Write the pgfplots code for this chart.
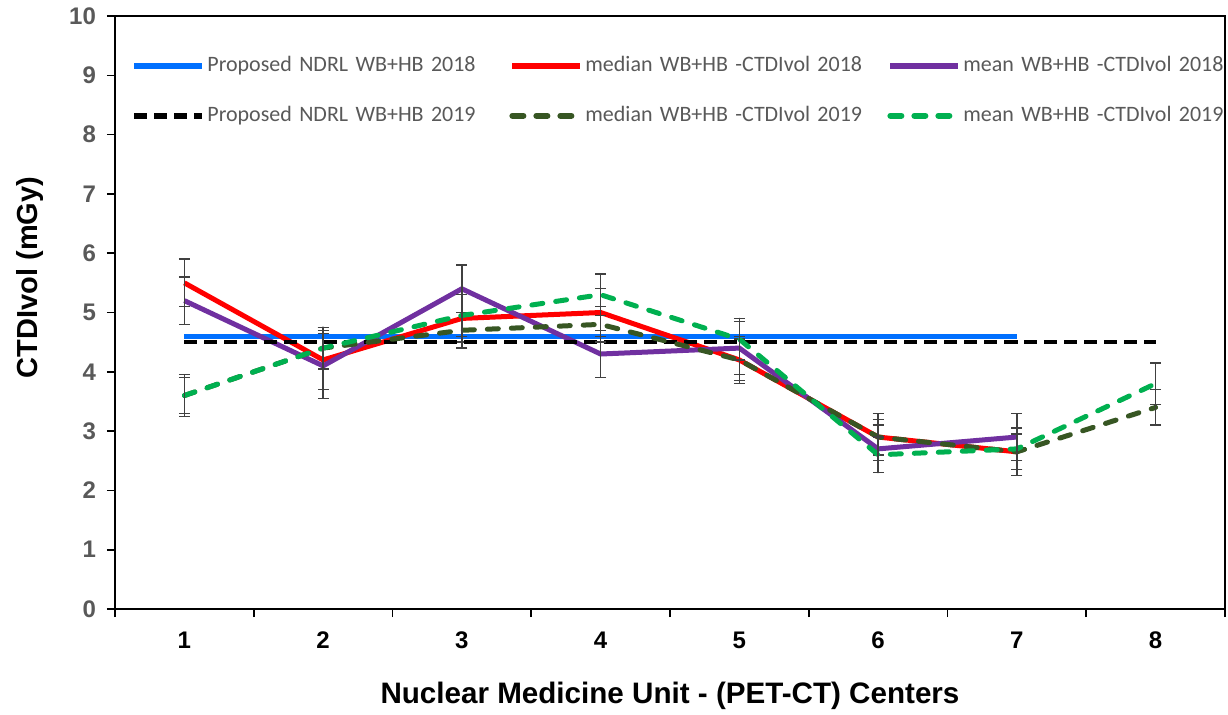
\documentclass[border=0pt]{standalone}
\usepackage{pgfplots}
\pgfplotsset{compat=1.18}
\usepackage{fontspec}
\setmainfont{Liberation Sans}
\newfontfamily\legfont{Carlito}
\definecolor{cblue}{RGB}{0,112,255}
\definecolor{cred}{RGB}{255,0,0}
\definecolor{cpurple}{RGB}{112,48,160}
\definecolor{colive}{RGB}{55,86,35}
\definecolor{cgreen}{RGB}{0,176,80}
\definecolor{ygray}{RGB}{89,89,89}
\definecolor{errc}{RGB}{64,64,64}
\pgfplotstableread{
x y
1 4.6
2 4.6
3 4.6
4 4.6
5 4.6
6 4.6
7 4.6
}\blueT
\pgfplotstableread{
x y
1 4.5
2 4.5
3 4.5
4 4.5
5 4.5
6 4.5
7 4.5
8 4.5
}\blackT
\pgfplotstableread{
x y e
1 5.5 0.4
2 4.2 0.5
3 4.9 0.4
4 5.0 0.4
5 4.2 0.4
6 2.9 0.4
7 2.65 0.4
}\redT
\pgfplotstableread{
x y e
1 5.2 0.4
2 4.1 0.55
3 5.4 0.4
4 4.3 0.4
5 4.4 0.45
6 2.7 0.4
7 2.9 0.4
}\purpleT
\pgfplotstableread{
x y e
1 3.6 0.3
2 4.4 0.35
3 4.7 0.3
4 4.8 0.3
5 4.2 0.35
6 2.9 0.3
7 2.65 0.3
8 3.4 0.3
}\oliveT
\pgfplotstableread{
x y e
1 3.6 0.35
2 4.4 0.35
3 4.95 0.35
4 5.3 0.35
5 4.55 0.35
6 2.6 0.3
7 2.7 0.35
8 3.8 0.35
}\greenT
\begin{document}
\begin{tikzpicture}
\begin{axis}[
  scale only axis, width=555pt, height=296.5pt,
  xmin=0.5, xmax=8.5, ymin=0, ymax=10,
  xtick={1,...,8}, minor xtick={0.5,1.5,...,8.5},
  major x tick style={draw=none},
  minor x tick style={black, line width=0.8pt},
  minor tick length=4pt,
  ytick={0,...,10}, major tick length=4pt,
  y tick style={black, line width=0.8pt},
  tick align=outside, tick pos=left,
  axis line style={black, line width=1.3pt},
  /pgf/number format/assume math mode=true,
  yticklabel style={font=\bfseries\fontsize{12}{14}\selectfont, text=ygray, xshift=-2pt},
  xticklabel style={font=\bfseries\fontsize{12}{14}\selectfont, text=black, yshift=-4pt},
  ylabel={CTDIvol (mGy)},
  xlabel={Nuclear Medicine Unit - (PET-CT) Centers},
  every axis y label/.style={at={(axis description cs:-0.0766,0.559)}, rotate=90, anchor=center, font=\bfseries\fontsize{14.5}{17}\selectfont},
  every axis x label/.style={at={(axis description cs:0.5,0)}, anchor=center, yshift=-43.5pt, font=\bfseries\fontsize{14.8}{17}\selectfont},
  legend style={at={(rel axis cs:0,1)}, anchor=north west, xshift=5pt, yshift=-17pt,
    draw=none, fill=none, legend columns=3,
    font=\legfont\fontsize{11}{13}\selectfont, text=ygray,
    nodes={text width=150pt, align=left, inner sep=1pt},
    row sep=14pt, column sep=0pt},
  legend cell align=left,
  legend image code/.code={\draw[#1, line width=3pt] (0pt,0pt) -- (34pt,0pt);},
  error bars/y dir=both, error bars/y explicit,
  error bars/error mark=-,
  error bars/error bar style={errc, line width=0.7pt, solid},
  error bars/error mark options={rotate=90, errc, mark size=2.8pt, line width=0.7pt, solid},
]
\addplot[cblue, line width=2.5pt, error bars/y dir=none] table[x=x,y=y] {\blueT};
\addlegendentry{Proposed NDRL WB+HB 2018}
\addplot[cred, line width=2.5pt] table[x=x,y=y,y error=e] {\redT};
\addlegendentry{median WB+HB -CTDIvol 2018}
\addplot[cpurple, line width=2.5pt] table[x=x,y=y,y error=e] {\purpleT};
\addlegendentry{mean WB+HB -CTDIvol 2018}
\addplot[black, line width=2pt, dash pattern=on 6.5pt off 3.5pt, error bars/y dir=none] table[x=x,y=y] {\blackT};
\addlegendentry{Proposed NDRL WB+HB 2019}
\addplot[colive, line width=2.5pt, line cap=round, dash pattern=on 5.5pt off 6.5pt] table[x=x,y=y,y error=e] {\oliveT};
\addlegendentry{median WB+HB -CTDIvol 2019}
\addplot[cgreen, line width=2.5pt, line cap=round, dash pattern=on 5.5pt off 6.5pt] table[x=x,y=y,y error=e] {\greenT};
\addlegendentry{mean WB+HB -CTDIvol 2019}
\end{axis}
\pgfresetboundingbox
\path (-57.5pt,-52.5pt) rectangle (556.5pt,304.5pt);
\end{tikzpicture}
\end{document}
